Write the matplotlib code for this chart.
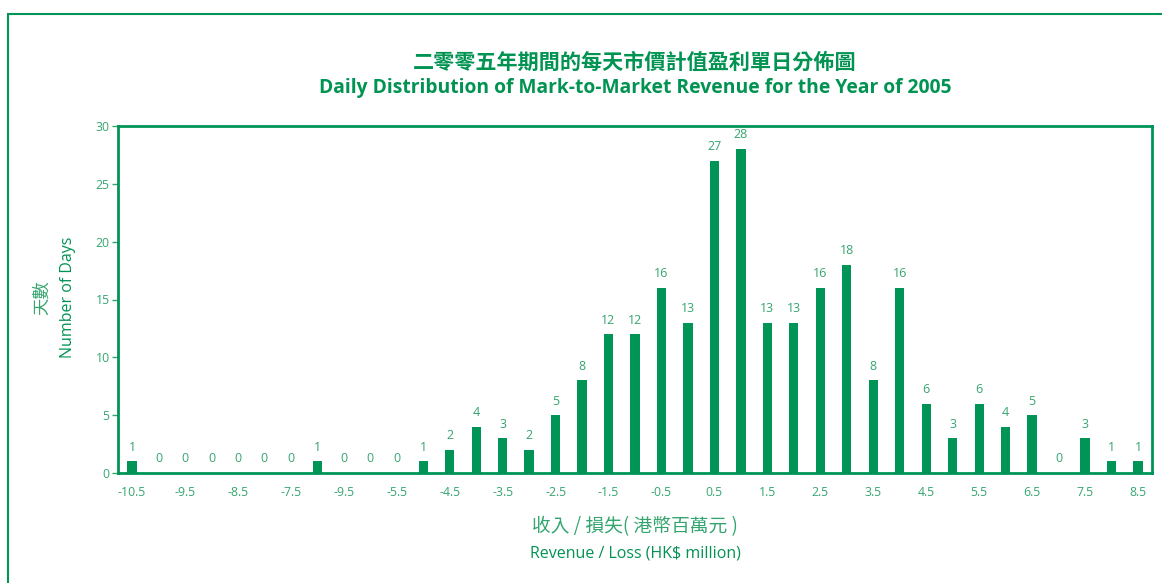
import matplotlib
matplotlib.use("Agg")
import matplotlib.pyplot as plt
from matplotlib.patches import Rectangle

# valeurs (pas de 0.5 HK$ million)
bins = [-10.5, -10.0, -9.5, -9.0, -8.5, -8.0, -7.5, -7.0, -6.5, -6.0, -5.5, -5.0,
        -4.5, -4.0, -3.5, -3.0, -2.5, -2.0, -1.5, -1.0, -0.5, 0.0, 0.5, 1.0,
        1.5, 2.0, 2.5, 3.0, 3.5, 4.0, 4.5, 5.0, 5.5, 6.0, 6.5, 7.0, 7.5, 8.0, 8.5]
days = [1, 0, 0, 0, 0, 0, 0, 1, 0, 0, 0, 1, 2, 4, 3, 2, 5, 8, 12, 12, 16, 13, 27, 28,
        13, 13, 16, 18, 8, 16, 6, 3, 6, 4, 5, 0, 3, 1, 1]
# libellés d'axe tels qu'imprimés (dont la coquille "-9.5" à la place de "-6.5")
tick_labels = ["-10.5", "-9.5", "-8.5", "-7.5", "-9.5", "-5.5", "-4.5", "-3.5", "-2.5",
               "-1.5", "-0.5", "0.5", "1.5", "2.5", "3.5", "4.5", "5.5", "6.5", "7.5", "8.5"]
y_ticks = [0, 5, 10, 15, 20, 25, 30]

BAR = "#009557"
DARK = "#009352"
LIGHT = "#35a56f"
CJK = ["Noto Sans CJK TC", "DejaVu Sans"]
LAT = ["Open Sans", "DejaVu Sans"]

W, H = 1162, 583
fig = plt.figure(figsize=(W / 100, H / 100), dpi=100)
ax = fig.add_axes([118 / W, 1 - 473 / H, (1152 - 118) / W, (473 - 126) / H])

# cadre de la figure
fig.patches.append(Rectangle((8 / W, -0.1), 1.2, 1 - 14 / H + 0.1, transform=fig.transFigure,
                             fill=False, edgecolor=BAR, linewidth=1.5))

x = list(range(len(days)))
ax.bar(x, days, width=0.35, color=BAR, zorder=3)
for xi, v in zip(x, days):
    ax.annotate(str(v), (xi, v), xytext=(0, 5.5), textcoords="offset points",
                ha="center", va="bottom", fontsize=9, color=LIGHT, family=LAT,
                annotation_clip=False)

ax.set_xlim(-0.53, len(days) - 1 + 0.53)
ax.set_ylim(0, 30)
ax.set_xticks(x[::2])
ax.set_xticklabels(tick_labels, fontsize=8.8, color=LIGHT, family=LAT)
ax.tick_params(axis="x", length=0, pad=9)
ax.set_yticks(y_ticks)
ax.set_yticklabels([str(t) for t in y_ticks], fontsize=8.8, color=LIGHT, family=LAT)
ax.tick_params(axis="y", length=4, width=1, color=LIGHT, pad=2)
for s in ax.spines.values():
    s.set_color(BAR)
    s.set_linewidth(2)

cx = (118 + 1152) / 2 / W
fig.text(cx, 1 - 62 / H, "二零零五年期間的每天市價計值盈利單日分佈圖", ha="center", va="center",
         fontsize=15.2, fontweight="bold", color=DARK, family=CJK)
fig.text(cx, 1 - 88 / H, "Daily Distribution of Mark-to-Market Revenue for the Year of 2005",
         ha="center", va="center", fontsize=13.9, fontweight="bold", color=DARK, family=LAT)

fig.text(42 / W, 1 - 298 / H, "天數", rotation=90, ha="center", va="center",
         fontsize=12.5, color=LIGHT, family=CJK)
fig.text(68 / W, 1 - 297 / H, "Number of Days", rotation=90, ha="center", va="center",
         fontsize=11.5, color=DARK, family=LAT)

fig.text(cx, 1 - 527 / H, "收入 / 損失( 港幣百萬元 )", ha="center", va="center",
         fontsize=13.5, color=LIGHT, family=CJK)
fig.text(cx, 1 - 553 / H, "Revenue / Loss (HK$ million)", ha="center", va="center",
         fontsize=11.5, color=DARK, family=LAT)

fig.savefig("out.png", dpi=100)
